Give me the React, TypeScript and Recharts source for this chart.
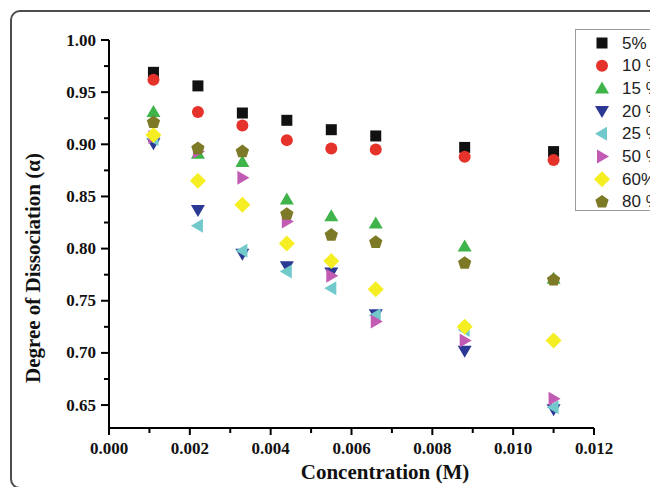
import React from "react";
import { ScatterChart, Scatter, XAxis, YAxis, Legend } from "recharts";

// concentrations (M)
const concentrations = [0.0011, 0.0022, 0.0033, 0.0044, 0.0055, 0.0066, 0.0088, 0.011];

// degree of dissociation per solvent fraction
const alpha5 = [0.969, 0.956, 0.93, 0.923, 0.914, 0.908, 0.897, 0.893];
const alpha10 = [0.962, 0.931, 0.918, 0.904, 0.896, 0.895, 0.888, 0.885];
const alpha15 = [0.931, 0.891, 0.883, 0.847, 0.831, 0.824, 0.802, 0.771];
const alpha20 = [0.901, 0.837, 0.795, 0.783, 0.777, 0.737, 0.702, 0.646];
const alpha25 = [0.905, 0.822, 0.798, 0.778, 0.762, 0.736, 0.722, 0.648];
const alpha50 = [0.907, 0.893, 0.868, 0.826, 0.774, 0.73, 0.712, 0.656];
const alpha60 = [0.909, 0.865, 0.842, 0.805, 0.788, 0.761, 0.725, 0.712];
const alpha80 = [0.921, 0.896, 0.893, 0.833, 0.813, 0.806, 0.786, 0.77];

const seriesNames = ["5%", "10 %", "15 %", "20 %", "25 %", "50 %", "60%", "80 %"];

const xMajorTicks = [0, 0.002, 0.004, 0.006, 0.008, 0.01, 0.012];
const xMinorTicks = [0.001, 0.003, 0.005, 0.007, 0.009, 0.011];
const yMajorTicks = [0.65, 0.7, 0.75, 0.8, 0.85, 0.9, 0.95, 1.0];
const yMinorTicks = [0.675, 0.725, 0.775, 0.825, 0.875, 0.925, 0.975];

const SERIES = [
  { name: seriesNames[0], values: alpha5, color: "#111111", kind: "square" },
  { name: seriesNames[1], values: alpha10, color: "#e5322b", kind: "circle" },
  { name: seriesNames[2], values: alpha15, color: "#3fb44a", kind: "up" },
  { name: seriesNames[3], values: alpha20, color: "#2b3894", kind: "down" },
  { name: seriesNames[4], values: alpha25, color: "#72c9cb", kind: "left" },
  { name: seriesNames[5], values: alpha50, color: "#c25bb3", kind: "right" },
  { name: seriesNames[6], values: alpha60, color: "#f4ee22", kind: "diamond" },
  { name: seriesNames[7], values: alpha80, color: "#7d7a27", kind: "pentagon" },
];

const SERIF = "'Liberation Serif', 'Times New Roman', serif";
const SANS = "'Liberation Sans', Arial, sans-serif";

const Marker = ({ kind, cx, cy, color }: any) => {
  switch (kind) {
    case "square":
      return <rect x={cx - 5.5} y={cy - 5.5} width={11} height={11} fill={color} />;
    case "circle":
      return <circle cx={cx} cy={cy} r={6} fill={color} />;
    case "up":
      return <polygon points={`${cx},${cy - 7} ${cx + 7},${cy + 5} ${cx - 7},${cy + 5}`} fill={color} />;
    case "down":
      return <polygon points={`${cx - 7},${cy - 5} ${cx + 7},${cy - 5} ${cx},${cy + 7}`} fill={color} />;
    case "left":
      return <polygon points={`${cx - 7},${cy} ${cx + 5},${cy - 7} ${cx + 5},${cy + 7}`} fill={color} />;
    case "right":
      return <polygon points={`${cx + 7},${cy} ${cx - 5},${cy - 7} ${cx - 5},${cy + 7}`} fill={color} />;
    case "diamond":
      return <polygon points={`${cx},${cy - 8} ${cx + 8},${cy} ${cx},${cy + 8} ${cx - 8},${cy}`} fill={color} />;
    default: {
      const pts = [0, 1, 2, 3, 4]
        .map((k) => {
          const a = ((-90 + k * 72) * Math.PI) / 180;
          return `${cx + 7 * Math.cos(a)},${cy + 7 * Math.sin(a)}`;
        })
        .join(" ");
      return <polygon points={pts} fill={color} />;
    }
  }
};

const isIn = (list: number[], v: number) => list.some((m) => Math.abs(m - v) < 1e-7);

const YTick = (props: any) => {
  const { x, y, payload } = props;
  const major = isIn(yMajorTicks, payload.value);
  return (
    <g>
      <line x1={x - (major ? 8 : 5)} x2={x} y1={y} y2={y} stroke="#000" strokeWidth={2} />
      {major && (
        <text x={x - 13} y={y} textAnchor="end" dominantBaseline="central" fontFamily={SERIF} fontWeight="bold" fontSize={17} fill="#111">
          {payload.value.toFixed(2)}
        </text>
      )}
    </g>
  );
};

const XTick = (props: any) => {
  const { x, y, payload } = props;
  const major = isIn(xMajorTicks, payload.value);
  return (
    <g>
      <line x1={x} x2={x} y1={y} y2={y + (major ? 7 : 5)} stroke="#000" strokeWidth={2} />
      {major && (
        <text x={x} y={y + 20} textAnchor="middle" dominantBaseline="central" fontFamily={SERIF} fontWeight="bold" fontSize={17} fill="#111">
          {payload.value.toFixed(3)}
        </text>
      )}
    </g>
  );
};

const LegendBox = () => (
  <div style={{ width: 120, height: 182, border: "1.5px solid #9a9a9a", background: "#fff", boxSizing: "border-box" }}>
    <svg width={120} height={182}>
      {SERIES.map((s, i) => {
        const cy = 13 + i * 22.7;
        return (
          <g key={s.name}>
            <Marker kind={s.kind} cx={26} cy={cy} color={s.color} />
            <text x={46} y={cy} dominantBaseline="central" fontFamily={SANS} fontSize={17} fill="#222">
              {s.name}
            </text>
          </g>
        );
      })}
    </svg>
  </div>
);

export default function App() {
  return (
    <div style={{ position: "relative", width: 650, height: 479, overflow: "hidden", background: "#fff" }}>
      <div
        style={{
          position: "absolute",
          left: 2,
          top: 2,
          width: 720,
          height: 475,
          border: "2px solid #4d4d4d",
          borderRadius: 10,
        }}
      />
      <div style={{ position: "absolute", left: 0, top: 0 }}>
        <ScatterChart width={650} height={478} margin={{ top: 32, right: 64, bottom: 0, left: 0 }}>
          <XAxis
            type="number"
            dataKey="x"
            domain={[0, 0.012]}
            ticks={[...xMajorTicks, ...xMinorTicks].sort((a, b) => a - b)}
            interval={0}
            allowDataOverflow
            height={58}
            tickSize={0}
            tickMargin={0}
            tickLine={false}
            axisLine={{ stroke: "#000", strokeWidth: 2 }}
            tick={<XTick />}
            label={{
              content: () => (
                <text x={377} y={464} textAnchor="middle" dominantBaseline="central" fontFamily={SERIF} fontWeight="bold" fontSize={21} fill="#111">
                  Concentration (M)
                </text>
              ),
            }}
          />
          <YAxis
            type="number"
            dataKey="y"
            domain={[0.628, 1.0]}
            ticks={[...yMajorTicks, ...yMinorTicks].sort((a, b) => a - b)}
            interval={0}
            allowDataOverflow
            width={101}
            tickSize={0}
            tickMargin={0}
            tickLine={false}
            axisLine={{ stroke: "#000", strokeWidth: 2 }}
            tick={<YTick />}
            label={{
              content: () => (
                <text
                  transform="translate(25, 260) rotate(-90)"
                  textAnchor="middle"
                  dominantBaseline="central"
                  fontFamily={SERIF}
                  fontWeight="bold"
                  fontSize={21}
                  fill="#111"
                >
                  Degree of Dissociation (α)
                </text>
              ),
            }}
          />
          <Legend
            layout="vertical"
            align="center"
            verticalAlign="middle"
            content={() => <LegendBox />}
            wrapperStyle={{ position: "absolute", left: 567, top: 21, width: 120, height: 182 }}
          />
          {SERIES.map((s) => (
            <Scatter
              key={s.name}
              name={s.name}
              data={concentrations.map((c, i) => ({ x: c, y: s.values[i] }))}
              isAnimationActive={false}
              shape={(p: any) => <Marker kind={s.kind} cx={p.cx} cy={p.cy} color={s.color} />}
            />
          ))}
        </ScatterChart>
      </div>
    </div>
  );
}
